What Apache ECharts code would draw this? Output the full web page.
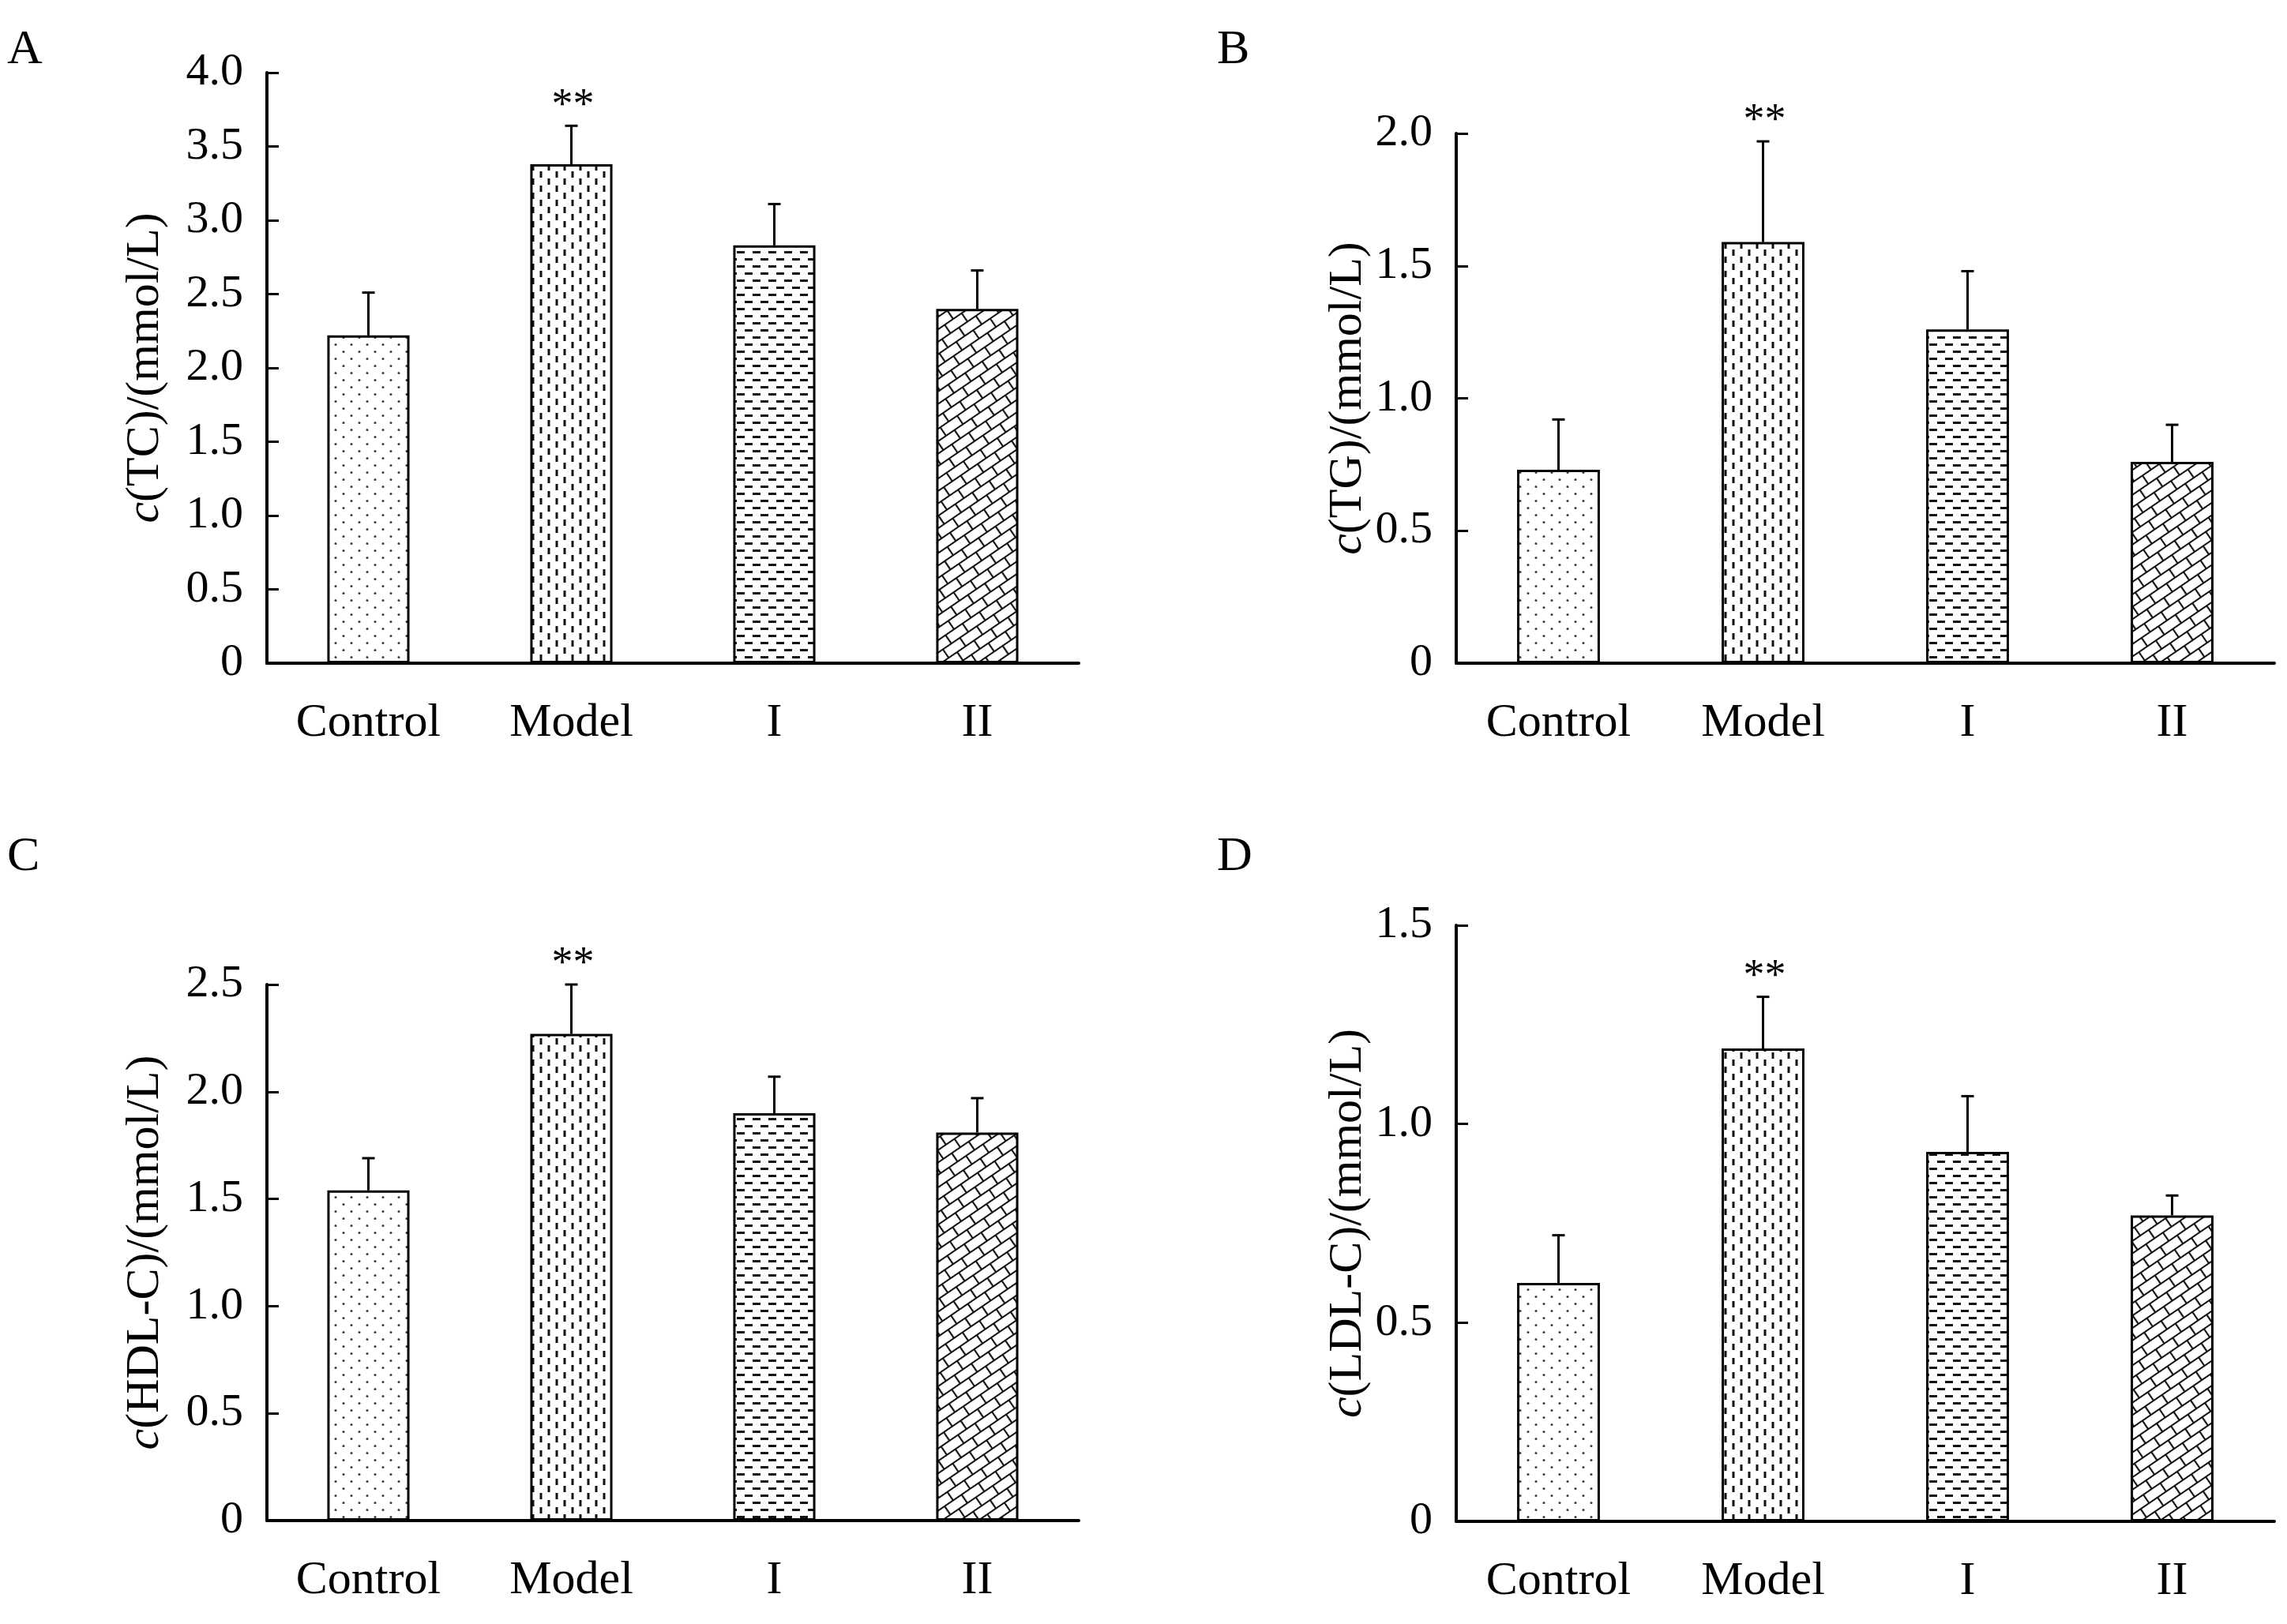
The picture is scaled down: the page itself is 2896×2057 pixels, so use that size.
<!DOCTYPE html>
<html>
<head>
<meta charset="utf-8">
<script src="https://cdn.jsdelivr.net/npm/echarts@6/dist/echarts.min.js"></script>
<style>
html,body{margin:0;padding:0;background:#fff;}
#chart{width:2896px;height:2057px;}
</style>
</head>
<body>
<div id="chart"></div>
<script>
// ---------- data ----------
const categories = ['Control', 'Model', 'I', 'II'];
const panelLabels = ['A', 'B', 'C', 'D'];
const yNames = ['(TC)/(mmol/L)', '(TG)/(mmol/L)', '(HDL-C)/(mmol/L)', '(LDL-C)/(mmol/L)'];
const yMax = [4.0, 2.0, 2.5, 1.5];
const significance = ['', '**', '', ''];

const tcMean = [2.22, 3.38, 2.83, 2.40];
const tcSd   = [0.29, 0.26, 0.28, 0.26];
const tgMean = [0.73, 1.59, 1.26, 0.76];
const tgSd   = [0.19, 0.38, 0.22, 0.14];
const hdlMean = [1.54, 2.27, 1.90, 1.81];
const hdlSd   = [0.15, 0.23, 0.17, 0.16];
const ldlMean = [0.60, 1.19, 0.93, 0.77];
const ldlSd   = [0.12, 0.13, 0.14, 0.05];

const means = [tcMean, tgMean, hdlMean, ldlMean];
const sds = [tcSd, tgSd, hdlSd, ldlSd];

// ---------- layout / style ----------
const FONT = "'Liberation Serif', 'Times New Roman', serif";
const grids = [
  {left: 338, top: 92, width: 1028, height: 748},
  {left: 1844, top: 169, width: 1036, height: 671},
  {left: 338, top: 1247, width: 1028, height: 679},
  {left: 1844, top: 1172, width: 1036, height: 755}
];
const nameGaps = [124, 84, 124, 84];
const titlePos = [
  {left: 4, top: 28},
  {left: 1536, top: 28},
  {left: 4, top: 1050},
  {left: 1536, top: 1050}
];

function makeTile(kind) {
  const c = document.createElement('canvas');
  let w = 20, h = 18;
  if (kind === 'brick') { w = 26; h = 26; }
  c.width = w; c.height = h;
  const g = c.getContext('2d');
  g.fillStyle = '#fff';
  g.fillRect(0, 0, w, h);
  if (kind === 'dots') {
    g.fillStyle = '#3a3a3a';
    [[5, 4.5], [15, 13.5]].forEach(p => { g.beginPath(); g.arc(p[0], p[1], 1.5, 0, Math.PI * 2); g.fill(); });
  } else if (kind === 'vdash') {
    g.fillStyle = '#111';
    g.fillRect(3.5, 1, 3, 8);
    g.fillRect(13.5, 10, 3, 8);
  } else if (kind === 'hdash') {
    g.fillStyle = '#111';
    g.fillRect(3, 3, 10, 3);
    g.fillRect(13, 12, 7, 3);
    g.fillRect(0, 12, 3, 3);
  } else if (kind === 'brick') {
    g.strokeStyle = '#111';
    g.lineWidth = 2.2;
    g.beginPath();
    g.moveTo(0, 1); g.lineTo(w, 1);
    g.moveTo(0, 14); g.lineTo(w, 14);
    g.moveTo(1, 1); g.lineTo(1, 14);
    g.moveTo(14, 14); g.lineTo(14, 27);
    g.stroke();
  }
  return c;
}
const patternKinds = ['dots', 'vdash', 'hdash', 'brick'];
const patterns = patternKinds.map(k => {
  const p = {image: makeTile(k), repeat: 'repeat'};
  if (k === 'brick') { p.rotation = -0.6; }
  return p;
});

// ---------- build option ----------
const option = {
  backgroundColor: '#fff',
  animation: false,
  title: panelLabels.map((t, i) => ({
    text: t, left: titlePos[i].left, top: titlePos[i].top,
    textStyle: {fontFamily: FONT, fontSize: 62, fontWeight: 'normal', color: '#000'}
  })),
  grid: grids.map(g => Object.assign({containLabel: false}, g)),
  xAxis: grids.map((g, i) => ({
    type: 'category', gridIndex: i, data: categories,
    axisLine: {lineStyle: {color: '#000', width: 4}},
    axisTick: {inside: true, length: 13, lineStyle: {color: '#000', width: 3}},
    axisLabel: {fontFamily: FONT, fontSize: 60, color: '#000', margin: 46},
    splitLine: {show: false}
  })),
  yAxis: grids.map((g, i) => ({
    type: 'value', gridIndex: i, min: 0, max: yMax[i], interval: 0.5,
    name: '{i|c}' + yNames[i], nameLocation: 'middle', nameRotate: 90, nameGap: nameGaps[i],
    nameTextStyle: {fontFamily: FONT, fontSize: 60, color: '#000',
      rich: {i: {fontFamily: FONT, fontSize: 60, fontStyle: 'italic', color: '#000'}}},
    axisLine: {show: true, lineStyle: {color: '#000', width: 4}},
    axisTick: {show: true, inside: true, length: 15, lineStyle: {color: '#000', width: 3}},
    axisLabel: {fontFamily: FONT, fontSize: 58, color: '#000', margin: 30,
      formatter: v => (v === 0 ? '0' : v.toFixed(1))},
    splitLine: {show: false}
  })),
  series: []
};

means.forEach((m, i) => {
  option.series.push({
    type: 'bar', xAxisIndex: i, yAxisIndex: i, barWidth: '40.5%',
    data: m.map((v, j) => ({value: v, itemStyle: {color: patterns[j]}})),
    itemStyle: {borderColor: '#000', borderWidth: 3},
    z: 2
  });
  option.series.push({
    type: 'custom', xAxisIndex: i, yAxisIndex: i, z: 3,
    data: m.map((v, j) => [j, v, v + sds[i][j]]),
    renderItem: function (params, api) {
      const j = api.value(0);
      const base = api.coord([j, api.value(1)]);
      const top = api.coord([j, api.value(2)]);
      const children = [
        {type: 'line', shape: {x1: base[0], y1: base[1], x2: top[0], y2: top[1]},
         style: {stroke: '#000', lineWidth: 3}},
        {type: 'line', shape: {x1: top[0] - 8, y1: top[1], x2: top[0] + 8, y2: top[1]},
         style: {stroke: '#000', lineWidth: 3}}
      ];
      if (significance[j]) {
        children.push({type: 'text', style: {text: significance[j], x: top[0] + 2, y: top[1] + 2,
          align: 'center', verticalAlign: 'bottom', font: '54px ' + FONT, fill: '#000'}});
      }
      return {type: 'group', children: children};
    }
  });
});

const chart = echarts.init(document.getElementById('chart'), null, {renderer: 'canvas'});
chart.setOption(option);
</script>
</body>
</html>
